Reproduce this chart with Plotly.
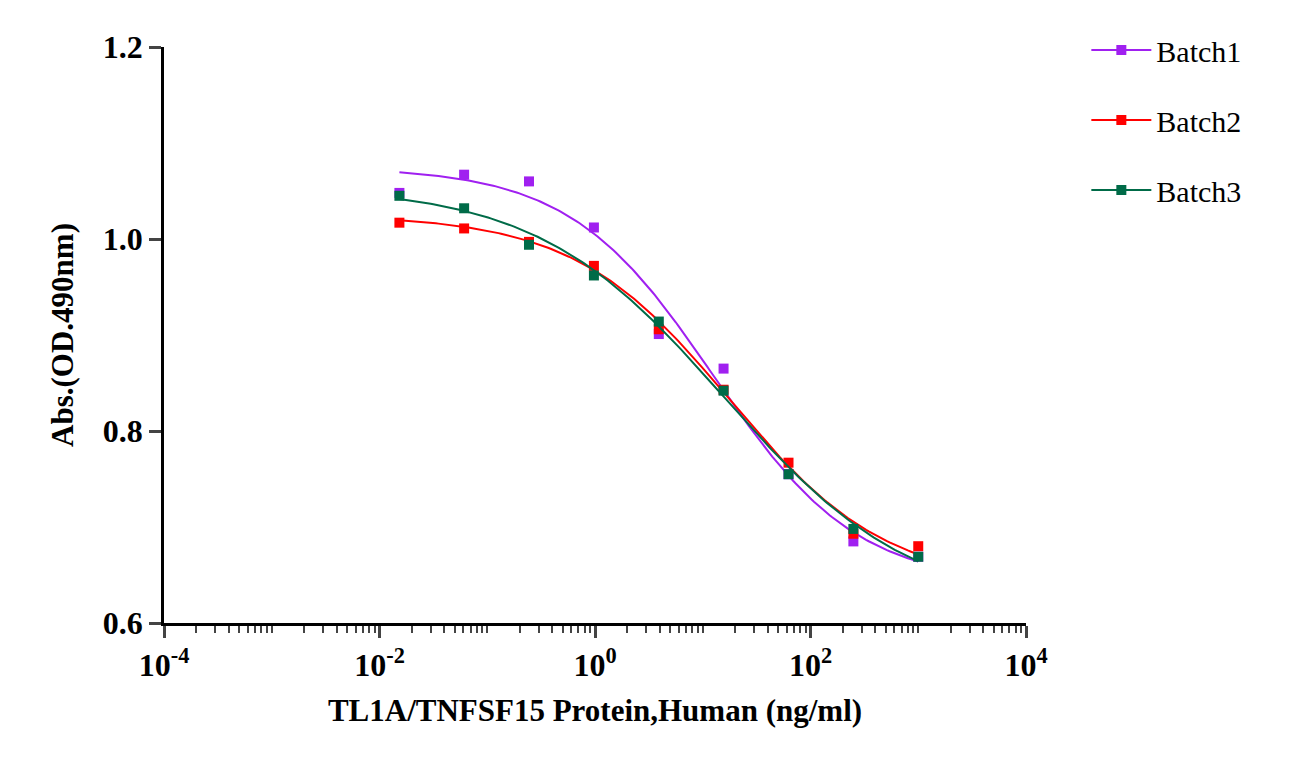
import numpy as np
import plotly.graph_objects as go

conc = [0.0153, 0.061, 0.244, 0.977, 3.91, 15.6, 62.5, 250, 1000]
batch1 = [1.048, 1.067, 1.060, 1.012, 0.901, 0.865, 0.755, 0.685, 0.669]
batch2 = [1.017, 1.011, 0.997, 0.972, 0.906, 0.843, 0.767, 0.693, 0.680]
batch3 = [1.045, 1.032, 0.994, 0.962, 0.914, 0.842, 0.755, 0.698, 0.669]
names = ["Batch1", "Batch2", "Batch3"]
colors = ["#A020F0", "#FF0000", "#006B48"]
tick_vals = [1e-4, 1e-2, 1, 1e2, 1e4]
tick_text = ["10<sup>-4</sup>", "10<sup>-2</sup>", "10<sup>0</sup>", "10<sup>2</sup>", "10<sup>4</sup>"]


def fit_4pl(x, y):
    # coarse grid search for a 4-parameter logistic fit
    x = np.asarray(x)[None, None, None, None, :]
    y = np.asarray(y)
    tops = np.linspace(1.0, 1.1, 21)[:, None, None, None, None]
    bots = np.linspace(0.55, 0.70, 31)[None, :, None, None, None]
    lec = np.linspace(-0.5, 2.0, 51)[None, None, :, None, None]
    hills = np.linspace(0.3, 1.5, 25)[None, None, None, :, None]
    pred = bots + (tops - bots) / (1 + (x / 10 ** lec) ** hills)
    err = ((pred - y) ** 2).sum(axis=-1)
    i = np.unravel_index(err.argmin(), err.shape)
    return tops.ravel()[i[0]], bots.ravel()[i[1]], 10 ** lec.ravel()[i[2]], hills.ravel()[i[3]]


xs = np.logspace(np.log10(conc[0]), np.log10(conc[-1]), 200)
fig = go.Figure()
for name, ys, c in zip(names, [batch1, batch2, batch3], colors):
    t, b, ec, h = fit_4pl(conc, ys)
    fig.add_trace(go.Scatter(x=xs, y=b + (t - b) / (1 + (xs / ec) ** h), mode='lines',
                             line=dict(color=c, width=2), showlegend=False, hoverinfo='skip'))
    fig.add_trace(go.Scatter(x=conc, y=ys, mode='markers', name=name,
                             marker=dict(symbol='square', size=10, color=c), showlegend=False))
    # legend entry with line + marker
    fig.add_trace(go.Scatter(x=[None], y=[None], mode='lines+markers', name=name, legendgroup=name,
                             line=dict(color=c, width=2), marker=dict(symbol='square', size=10, color=c)))

fig.update_layout(
    width=1290, height=761, plot_bgcolor='white', paper_bgcolor='white',
    margin=dict(l=156, r=272, t=39, b=146),
    font=dict(family="Liberation Serif", size=32, color='black'),
    legend=dict(x=1.07, y=1.04, xanchor='left', yanchor='top', font=dict(size=30, color='black'),
                tracegroupgap=28, itemwidth=60),
    xaxis=dict(type='log', range=[-4, 4], tickvals=tick_vals, ticktext=["<b>" + t + "</b>" for t in tick_text],
               showline=True, linecolor='black', linewidth=2.5, ticks='outside', ticklen=12, tickwidth=2.5,
               showgrid=False, zeroline=False,
               minor=dict(ticks='outside', ticklen=7, tickwidth=2, dtick='D1', showgrid=False),
               tickfont=dict(size=32, family="Liberation Serif"),
               title=dict(text="<b>TL1A/TNFSF15 Protein,Human (ng/ml)</b>", font=dict(size=31), standoff=18)),
    yaxis=dict(range=[0.6, 1.2], tickvals=[0.6, 0.8, 1.0, 1.2], ticktext=["<b>0.6</b>", "<b>0.8</b>", "<b>1.0</b>", "<b>1.2</b>"],
               showline=True, linecolor='black', linewidth=2.5, ticks='outside', ticklen=12, tickwidth=2.5,
               showgrid=False, zeroline=False, tickfont=dict(size=32),
               title=dict(text="<b>Abs.(OD.490nm)</b>", font=dict(size=31), standoff=20)),
)
fig.write_html("out.html")
